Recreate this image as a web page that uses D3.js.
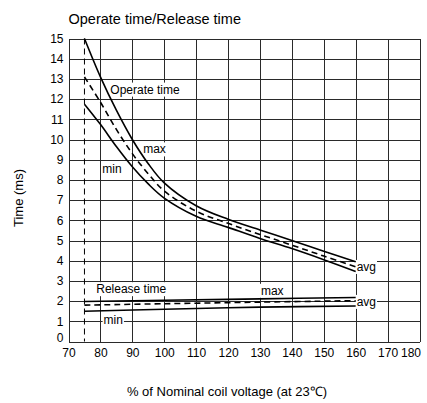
<!DOCTYPE html>
<html lang="en">
<head>
    <meta charset="UTF-8">
    <title>Operate time/Release time</title>
    <script src="https://d3js.org/d3.v7.min.js"></script>
    <style>
        body {
            margin: 0;
            padding: 0;
            background-color: #fff;
            font-family: Arial, "Liberation Sans", sans-serif;
        }

        .grid line {
            stroke: #2a2a2a;
            stroke-width: 1px;
            shape-rendering: crispEdges;
        }

        .grid text {
            font-size: 12px;
            fill: #000;
        }

        .curve {
            fill: none;
            stroke: #000;
            stroke-width: 1.6px;
        }

        .curve.avg {
            stroke-dasharray: 6, 4;
        }

        .limit {
            stroke: #000;
            stroke-width: 1px;
            stroke-dasharray: 6, 4;
        }

        .note {
            font-size: 12px;
            fill: #000;
        }
    </style>
</head>
<body>
<svg id="chart"></svg>

<script>
    // Operate time (ms)
    const opVoltage = [75, 80, 85, 90, 95, 100, 110, 120, 130, 140, 150, 160];
    const opMax = [15.0, 13.1, 11.45, 10.0, 8.8, 7.85, 6.72, 6.05, 5.52, 5.0, 4.47, 3.95];
    const opAvg = [13.1, 11.85, 10.5, 9.3, 8.3, 7.45, 6.45, 5.85, 5.3, 4.77, 4.23, 3.7];
    const opMin = [11.75, 10.75, 9.65, 8.65, 7.8, 7.1, 6.2, 5.65, 5.1, 4.6, 4.05, 3.47];

    // Release time (ms)
    const relVoltage = [75, 100, 130, 160];
    const relMax = [1.98, 2.04, 2.11, 2.18];
    const relAvg = [1.8, 1.87, 1.95, 2.02];
    const relMin = [1.5, 1.6, 1.7, 1.76];

    const minVoltage = 75;

    const xTicks = [70, 80, 90, 100, 110, 120, 130, 140, 150, 160, 170, 180];
    const yTicks = d3.range(0, 16);

    // Set up the chart dimensions
    const W = 427, H = 403;
    const pLeft = 68.5, pRight = 419.5, pTop = 38.5, pBottom = 341.5;

    const svg = d3.select('#chart')
        .attr('width', W)
        .attr('height', H);

    const x = d3.scaleLinear().domain([70, 180]).range([pLeft, pRight]);
    const y = d3.scaleLinear().domain([0, 15]).range([pBottom, pTop]);

    // Grid lines with labels
    const yAxis = svg.append('g')
        .attr('class', 'grid')
        .attr('transform', `translate(${pLeft},0)`)
        .call(d3.axisLeft(y).tickValues(yTicks).tickSize(-(pRight - pLeft)).tickPadding(5));
    yAxis.select('.domain').remove();
    // the "0" label sits a little above the axis
    yAxis.selectAll('.tick text').filter(d => d === 0).attr('dy', '0.0em');

    const xAxis = svg.append('g')
        .attr('class', 'grid')
        .attr('transform', `translate(0,${pBottom})`)
        .call(d3.axisBottom(x).tickValues(xTicks).tickSize(-(pBottom - pTop)).tickPadding(7));
    xAxis.select('.domain').remove();
    // keep the last label inside the page
    xAxis.selectAll('.tick text').filter(d => d === 180)
        .attr('text-anchor', 'end')
        .attr('x', 1);

    // Lower voltage limit
    svg.append('line')
        .attr('class', 'limit')
        .attr('x1', x(minVoltage)).attr('x2', x(minVoltage))
        .attr('y1', y(15)).attr('y2', y(0));

    // Text labels with white background
    function note(txt, v, t) {
        const g = svg.append('g');
        const el = g.append('text')
            .attr('class', 'note')
            .attr('x', x(v))
            .attr('y', y(t))
            .attr('dy', '0.35em')
            .text(txt);
        const b = el.node().getBBox();
        g.insert('rect', 'text')
            .attr('x', b.x - 1).attr('y', b.y)
            .attr('width', b.width + 2).attr('height', b.height)
            .attr('fill', '#fff');
    }

    note('Operate time', 83.1, 12.48);
    note('Release time', 78.7, 2.6);
    note('max', 93.4, 9.52);
    note('min', 80.6, 8.53);
    note('max', 130.3, 2.52);
    note('min', 81, 1.08);
    note('avg', 160.3, 3.7);
    note('avg', 160.3, 1.97);

    // Curves
    function curve(xs, ys, cls) {
        const line = d3.line()
            .x((d, i) => x(xs[i]))
            .y(d => y(d))
            .curve(d3.curveCatmullRom.alpha(0.5));
        svg.append('path')
            .datum(ys)
            .attr('class', 'curve ' + cls)
            .attr('d', line);
    }

    curve(opVoltage, opMax, 'max');
    curve(opVoltage, opAvg, 'avg');
    curve(opVoltage, opMin, 'min');
    curve(relVoltage, relMax, 'max');
    curve(relVoltage, relAvg, 'avg');
    curve(relVoltage, relMin, 'min');

    // Titles
    svg.append('text')
        .attr('x', pLeft)
        .attr('y', 24)
        .style('font-size', '14.5px')
        .text('Operate time/Release time');

    svg.append('text')
        .attr('transform', `translate(23,198) rotate(-90)`)
        .attr('text-anchor', 'middle')
        .style('font-size', '13px')
        .text('Time (ms)');

    svg.append('text')
        .attr('x', 227)
        .attr('y', 396)
        .attr('text-anchor', 'middle')
        .style('font-size', '13px')
        .text('% of Nominal coil voltage (at 23\u2103)');
</script>
</body>
</html>
